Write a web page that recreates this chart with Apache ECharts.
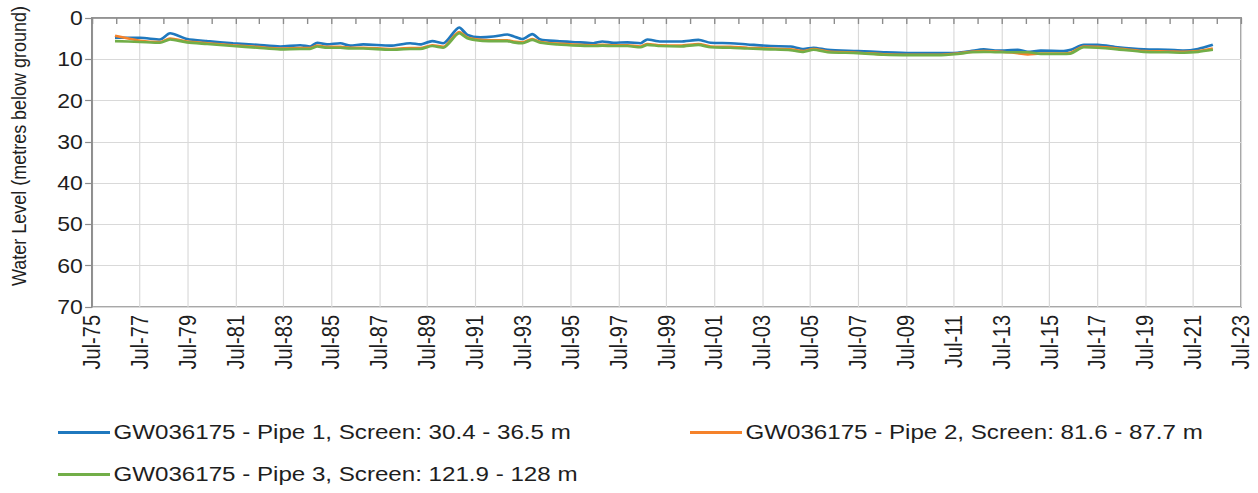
<!DOCTYPE html>
<html>
<head>
<meta charset="utf-8">
<script src="https://cdn.jsdelivr.net/npm/echarts/dist/echarts.min.js"></script>
<style>
  html, body { margin: 0; padding: 0; background: #fff; overflow: hidden; }
  #chart { width: 1094px; height: 493px; transform: scaleX(1.15); transform-origin: 0 0; }
</style>
</head>
<body>
<div id="chart"></div>
<script>
// Decimal-year sample dates
const dates = [
  1976.46, 1977.51, 1978.34, 1978.76, 1979.47, 1980.31, 1981.39, 1982.40, 1983.36, 1984.20,
  1984.61, 1984.91, 1985.32, 1985.87, 1986.29, 1986.83, 1987.96, 1988.79, 1989.21, 1989.71,
  1990.17, 1990.84, 1991.18, 1991.72, 1992.26, 1992.85, 1993.10, 1993.48, 1993.89, 1994.23,
  1994.94, 1995.90, 1996.44, 1996.82, 1997.28, 1997.87, 1998.41, 1998.70, 1999.25, 2000.08,
  2000.83, 2001.34, 2002.17, 2002.88, 2003.84, 2004.68, 2005.22, 2005.64, 2006.23, 2007.48,
  2008.57, 2009.70, 2010.83, 2011.66, 2012.21, 2012.75, 2013.33, 2014.17, 2014.59, 2015.13,
  2016.09, 2016.39, 2016.93, 2017.51, 2018.35, 2019.44, 2020.44, 2021.11, 2021.70, 2022.32
];
const pipe1 = [
  4.8, 4.8, 5.2, 3.7, 5.1, 5.6, 6.1, 6.5, 6.9, 6.6,
  6.9, 6.0, 6.4, 6.1, 6.7, 6.4, 6.7, 6.1, 6.4, 5.6,
  6.1, 2.3, 4.1, 4.7, 4.5, 4.0, 4.4, 5.1, 3.9, 5.2,
  5.6, 5.9, 6.1, 5.7, 6.0, 5.9, 6.1, 5.2, 5.7, 5.7,
  5.3, 6.0, 6.1, 6.4, 6.8, 6.9, 7.5, 7.2, 7.7, 8.0,
  8.3, 8.5, 8.5, 8.4, 8.0, 7.6, 7.9, 7.7, 8.2, 7.9,
  8.0, 7.7, 6.5, 6.5, 7.1, 7.6, 7.7, 7.9, 7.5, 6.5
];
const pipe2 = [
  4.3, 5.5, 5.8, 5.0, 5.7, 6.1, 6.6, 7.0, 7.4, 7.3,
  7.3, 6.7, 7.0, 7.0, 7.2, 7.2, 7.5, 7.3, 7.3, 6.6,
  7.0, 3.4, 4.7, 5.3, 5.4, 5.4, 5.7, 5.9, 5.1, 5.8,
  6.2, 6.5, 6.6, 6.5, 6.6, 6.6, 6.9, 6.3, 6.6, 6.7,
  6.3, 6.9, 7.0, 7.2, 7.4, 7.6, 8.0, 7.5, 8.1, 8.4,
  8.8, 8.9, 8.9, 8.6, 8.2, 8.0, 8.1, 8.5, 8.8, 8.6,
  8.6, 8.4, 6.9, 7.0, 7.4, 8.0, 8.1, 8.2, 8.0, 7.4
];
const pipe3 = [
  5.6, 5.8, 6.0, 5.2, 5.9, 6.3, 6.8, 7.2, 7.6, 7.5,
  7.5, 6.9, 7.2, 7.2, 7.4, 7.4, 7.7, 7.5, 7.5, 6.8,
  7.2, 3.7, 4.9, 5.5, 5.6, 5.6, 5.9, 6.1, 5.3, 6.0,
  6.4, 6.7, 6.8, 6.7, 6.8, 6.8, 7.1, 6.5, 6.8, 6.9,
  6.5, 7.1, 7.2, 7.4, 7.6, 7.8, 8.2, 7.7, 8.3, 8.5,
  8.9, 9.0, 9.0, 8.7, 8.3, 8.2, 8.3, 8.3, 8.3, 8.7,
  8.7, 8.6, 7.1, 7.2, 7.6, 8.2, 8.3, 8.4, 8.2, 7.7
];
const seriesNames = [
  'GW036175 - Pipe 1, Screen: 30.4 - 36.5 m',
  'GW036175 - Pipe 2, Screen: 81.6 - 87.7 m',
  'GW036175 - Pipe 3, Screen: 121.9 - 128 m'
];
const colors = ['#1f78be', '#f5822a', '#72ae48'];
const yAxisTitle = 'Water Level (metres below ground)';
const xStartYear = 1975.5; // Jul-75
const xSpanYears = 48;     // to Jul-23

const SX = 1.15; // horizontal stretch of the reference
const px = v => v / SX;
const FONT = 'Liberation Sans, Arial, sans-serif';
const TXT = '#1e1e1e';

function pts(vals) { return dates.map((d, i) => [d - xStartYear, vals[i]]); }

const chart = echarts.init(document.getElementById('chart'), null, { renderer: 'svg' });
const mkSeries = (i, vals) => ({
  name: seriesNames[i], type: 'line', data: pts(vals), showSymbol: false, symbol: 'none',
  smooth: 0.25, lineStyle: { color: colors[i], width: 2.6 }, itemStyle: { color: colors[i] }
});
const mkLegend = (i, left, top) => ({
  data: [seriesNames[i]], left: px(left), top: top, padding: 0, icon: 'rect', itemWidth: px(52), itemHeight: 3,
  textStyle: { fontFamily: FONT, fontSize: 21, color: TXT, padding: [0, 0, 0, -2] }, selectedMode: false
});
chart.setOption({
  animation: false,
  color: colors,
  grid: { left: px(92), right: px(17), top: 18, bottom: 186, show: true, borderColor: '#8c8c8c', borderWidth: 1.6, backgroundColor: 'transparent' },
  xAxis: {
    type: 'value', min: 0, max: xSpanYears, interval: 2,
    axisLine: { show: true, lineStyle: { color: '#8c8c8c', width: 1.6 } },
    axisTick: { show: true, length: 6, lineStyle: { color: '#8c8c8c', width: 1.2 } },
    minorTick: { show: true, splitNumber: 2, length: 6, lineStyle: { color: '#8c8c8c', width: 1.2 } },
    splitLine: { show: true, lineStyle: { color: '#d9d9d9', width: 1 } },
    axisLabel: {
      rotate: 90, margin: 8, fontFamily: FONT, fontSize: 20, color: TXT,
      formatter: v => 'Jul-' + String((75 + Math.round(v)) % 100).padStart(2, '0')
    }
  },
  yAxis: {
    type: 'value', inverse: true, min: 0, max: 70, interval: 10,
    axisLine: { show: true, lineStyle: { color: '#8c8c8c', width: 1.6 } },
    axisTick: { show: true, length: 6, lineStyle: { color: '#8c8c8c', width: 1.2 } },
    splitLine: { show: true, lineStyle: { color: '#d9d9d9', width: 1 } },
    axisLabel: { margin: 8, fontFamily: FONT, fontSize: 20, color: TXT }
  },
  legend: [mkLegend(0, 58, 422), mkLegend(1, 690, 422), mkLegend(2, 58, 464)],
  graphic: [{
    type: 'text', x: px(19), y: 146, rotation: Math.PI / 2,
    style: { text: yAxisTitle, font: '18px ' + FONT, fill: TXT, textAlign: 'center', textVerticalAlign: 'middle' }
  }],
  series: [mkSeries(0, pipe1), mkSeries(1, pipe2), mkSeries(2, pipe3)]
});
</script>
</body>
</html>
